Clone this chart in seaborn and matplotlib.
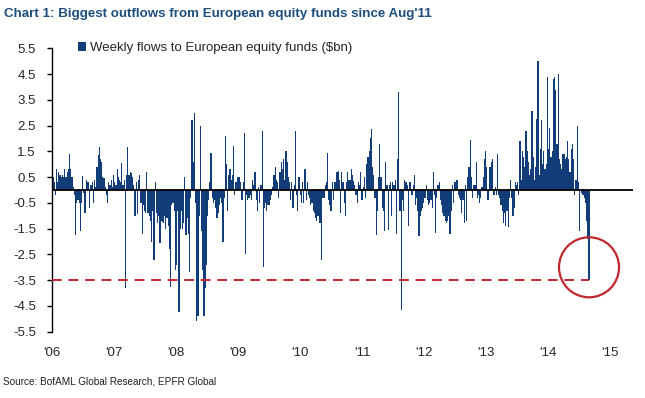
import pandas as pd
import numpy as np
import seaborn as sns
from matplotlib import pyplot as plt
from matplotlib.patches import Ellipse

# weekly flows to European equity funds, $bn (week by week)
flows_2006 = [0.5, 0.3, -0.2, 0.8, 0.3, 0.7, 0.6, 0.5, 0.6, 0.5, 0.8, 0.5, 0.7,
              0.8, 1.4, 0.8, 0.5, 0.1, -0.2, -1.75, -0.5, -0.4, -0.5, -1.6, -0.5, 0.55,
              -0.1, -0.9, 0.4, 0.3, 0.3, -0.7, 0.2, 0.3, -0.5, 0.4, 0.1, 0.9, 1.35,
              1.65, 1.2, 1.1, 0.5, 0.45, 0.1, -0.2, -0.5, 0.3, 0.2, 0.4, 0.1, 0.6]
flows_2007 = [0.3, 0.2, 0.8, 0.5, 0.4, 0.3, 1.05, 0.2, 0.4, -3.8, 0.6, 1.65, 0.6,
              0.7, 0.65, 0.5, 0.2, -1.0, 0.3, -0.95, 0.4, 0.6, -0.5, -1.7, -0.6, -0.8,
              -0.9, 0.7, -0.9, -1.0, -1.2, -2.0, -0.8, -2.7, 0.3, -0.9, -1.3, -1.0, -2.05,
              -1.2, -1.25, -1.3, -1.0, -1.5, -1.1, -1.4, -2.3, -3.75, -0.6, -0.5, -0.8, -3.1]
flows_2008 = [-2.9, -0.8, -4.75, -1.5, -0.8, -1.5, -1.3, 0.5, -1.75, -1.1, -1.7, -3.2, -0.3,
              2.7, 1.1, 3.0, -0.5, -5.1, -4.9, -1.0, 2.5, -1.6, -3.1, -4.9, -3.8, -2.9,
              -1.0, -0.4, 0.3, 1.45, -0.3, -0.5, -0.4, -0.7, -1.1, -0.9, -0.6, -0.3, -0.5,
              -2.0, -0.3, 2.1, 1.0, -0.8, 0.6, 0.8, 0.4, 0.6, 1.7, -0.2, 0.3, 0.5]
flows_2009 = [0.5, 0.5, 0.3, -0.4, 0.3, 2.2, -2.5, -0.2, -0.4, -0.3, -0.2, -0.4, 0.4,
              0.2, 0.7, -0.4, -0.8, 0.1, -0.5, 0.2, 2.3, -3.0, -0.7, -0.5, -0.8, -0.6,
              -0.6, -0.4, -0.2, 0.1, 0.6, 0.9, 0.4, 0.3, -0.3, 0.7, 1.1, 0.8, 1.2,
              0.4, 1.5, 1.1, 0.5, 0.3, -0.4, 0.3, -0.7, 0.2, 2.3, -0.2, -0.8, 0.5]
flows_2010 = [-0.2, -0.5, 0.3, -0.5, 0.8, -0.4, 0.3, -0.2, -0.3, -0.6, -0.5, -0.8, -0.9,
              -1.1, -1.2, -1.0, -1.3, -1.3, -2.7, -0.3, -0.3, 0.2, 0.3, 1.45, -0.4, -0.6,
              -0.8, 0.3, -0.4, 0.3, 0.3, 0.7, 0.75, 0.4, -0.9, 0.7, 0.3, -0.5, -1.0,
              0.3, 0.7, 0.4, 0.4, 0.8, 0.6, 0.35, 0.2, -0.2, -0.5, 0.3, 0.2, 0.7]
flows_2011 = [-0.4, 0.1, 0.5, -0.3, 1.0, 1.3, 1.5, 2.0, 2.35, 0.9, 0.6, -0.3, -1.75,
              -0.8, 0.5, 1.8, 0.5, -0.7, -0.8, -1.6, 1.1, 0.2, -1.55, 0.2, 0.3, -1.0,
              0.3, 0.2, 0.4, -1.7, 1.2, 3.8, -0.8, -4.65, -0.4, -0.8, 0.4, 0.3, 0.2,
              -1.4, 0.3, 0.3, -0.2, 0.2, 0.6, -0.6, -0.3, -0.8, -1.8, -1.0, -0.8, -0.7]
flows_2012 = [-0.5, -0.3, 0.2, -0.4, -0.6, -0.5, -0.4, -0.7, 0.7, -0.2, -1.65, -0.3, 0.2,
              0.3, -0.4, -0.6, -0.9, -1.0, -1.2, -1.3, -1.2, -1.0, -1.7, -0.8, 0.2, -0.5,
              0.3, 0.3, 0.4, -0.2, -0.3, -0.4, -0.9, -0.4, -1.3, 0.2, -1.2, 0.5, 0.9,
              1.95, 0.5, -0.3, 0.2, 0.2, 1.1, -0.3, -0.2, -0.5, -0.3, 0.1, 0.5, 1.2]
flows_2013 = [1.5, 0.9, -0.4, 0.9, 0.9, 1.1, 1.2, -0.2, 0.1, -0.2, 1.4, -0.2, -0.3,
              -0.6, -0.8, -1.3, -0.9, -1.4, -0.8, -1.45, -0.3, 0.4, -0.3, -1.0, -0.7, 0.3,
              0.2, 0.3, -0.2, 1.9, 0.4, 1.5, 1.3, 0.9, 2.3, 1.5, 1.1, 0.6, 0.8,
              3.05, 1.3, 0.4, 0.9, 2.75, 5.0, 0.6, 1.6, 2.7, 1.0, 1.5, 0.8, 1.0]
flows_2014 = [4.4, 1.6, 2.4, 1.3, 1.5, 4.3, 4.4, 3.9, 1.8, 4.5, 1.2, 1.0, 0.8,
              1.4, 1.4, 1.2, 1.3, 1.9, 1.2, 0.7, 1.6, 1.8, 1.2, -0.2, 0.4, 2.5,
              0.3, -1.6, 0.05, -0.1, -0.2, -0.3, -0.5, -1.2, -1.9, -3.5]

flows = (flows_2006 + flows_2007 + flows_2008 + flows_2009 + flows_2010
         + flows_2011 + flows_2012 + flows_2013 + flows_2014)
years = list(range(2006, 2016))
year_labels = ["'06", "'07", "'08", "'09", "'10", "'11", "'12", "'13", "'14", "'15"]
y_ticks = [5.5, 4.5, 3.5, 2.5, 1.5, 0.5, -0.5, -1.5, -2.5, -3.5, -4.5, -5.5]

df = pd.DataFrame({"week": np.arange(len(flows)), "flow": flows})
df["date"] = pd.date_range("2006-01-06", periods=len(df), freq="7D")

sns.set_style("white")
plt.rcParams["font.family"] = ["Liberation Sans", "DejaVu Sans"]

navy = "#113D79"
red = "#C0282D"

fig = plt.figure(figsize=(6.45, 3.98), dpi=100)
ax = fig.add_axes([52 / 645, 1 - 331.7 / 398, 581 / 645, 283.4 / 398])

sns.barplot(ax=ax, data=df, x="week", y="flow", color=navy, saturation=1,
            width=1.0, linewidth=0, errorbar=None, native_scale=True,
            label="Weekly flows to European equity funds ($bn)")

ax.axhline(0, color="black", linewidth=1.3, zorder=3)

# dashed level of the latest week, and the ring round it
last = df.iloc[-1]
ax.hlines(last["flow"], -0.5, last["week"], colors=red, linestyles=(0, (5, 3.5)),
          linewidth=1.4, zorder=3)
ax.add_patch(Ellipse((last["week"], last["flow"] + 0.5), width=50.5, height=2.33,
                     fill=False, edgecolor=red, linewidth=1.6, zorder=4, clip_on=False))

ax.set_xlim(-0.8, 488)
ax.set_ylim(-5.5, 5.5)
ax.set_yticks(y_ticks)
ax.set_yticklabels([f"{v:.1f}" for v in y_ticks])

start = df["date"].iloc[0]
tick_pos = [(pd.Timestamp(f"{y}-01-01") - start).days / 7 for y in years]
ax.set_xticks(tick_pos)
ax.set_xticklabels(year_labels)
ax.set_xlabel("")
ax.set_ylabel("")

for s in ["top", "right", "bottom"]:
    ax.spines[s].set_visible(False)
ax.spines["left"].set_color("black")
ax.spines["left"].set_linewidth(1.0)
ax.tick_params(axis="y", direction="out", length=3.6, width=1, color="black",
               pad=8, labelsize=9.5, left=True)
ax.tick_params(axis="x", length=0, pad=11, labelsize=9.5)

ax.legend(loc="center left", bbox_to_anchor=(0.035, 1.0), frameon=False,
          handlelength=0.6, handleheight=0.6, handletextpad=0.35, fontsize=9.5,
          borderaxespad=0)

fig.text(4 / 645, 1 - 14 / 398, "Chart 1: Biggest outflows from European equity funds since Aug'11",
         ha="left", va="center", fontsize=9.6, fontweight="bold", color="#1D4E7E")
fig.text(3 / 645, 1 - 381 / 398, "Source: BofAML Global Research, EPFR Global",
         ha="left", va="center", fontsize=7.2, color="#222222")

fig.savefig("out.png", dpi=100)
